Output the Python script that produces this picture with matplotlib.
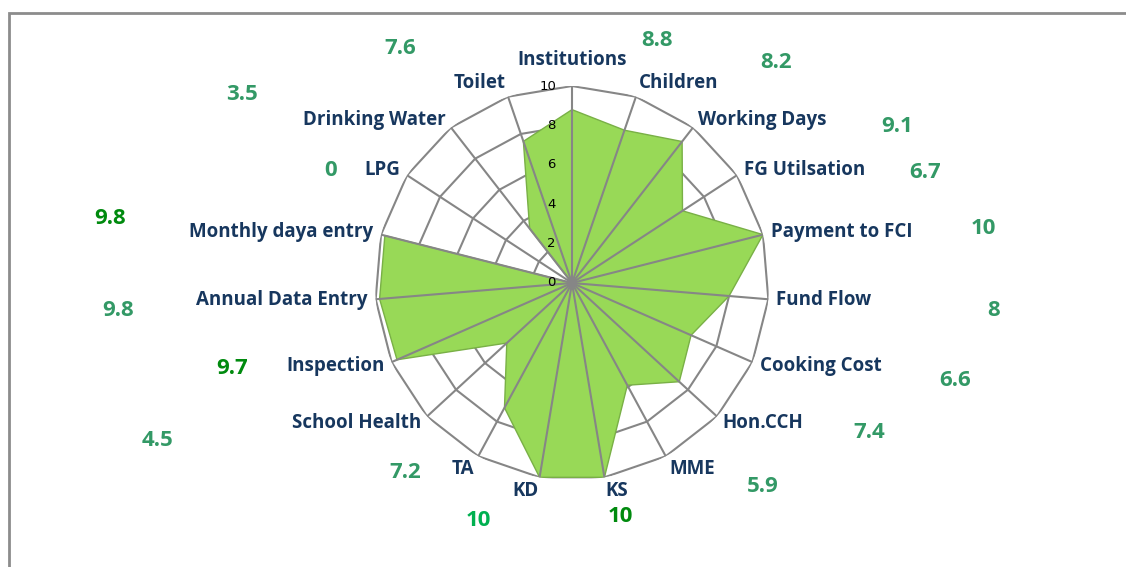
import numpy as np
import matplotlib.pyplot as plt
from matplotlib.patches import Rectangle

categories = ['Institutions', 'Children', 'Working Days', 'FG Utilsation', 'Payment to FCI',
              'Fund Flow', 'Cooking Cost', 'Hon.CCH', 'MME', 'KS', 'KD', 'TA', 'School Health',
              'Inspection', 'Annual Data Entry', 'Monthly daya entry', 'LPG', 'Drinking Water', 'Toilet']
scores = [8.8, 8.2, 9.1, 6.7, 10, 8, 6.6, 7.4, 5.9, 10, 10, 7.2, 4.5, 9.7, 9.8, 9.8, 0, 3.5, 7.6]
ticks = [0, 2, 4, 6, 8, 10]

# where the loose value boxes sit (figure pixels) and their colour
MID, DARK, BRIGHT = '#339966', '#008a0e', '#00b050'
value_pos = [(657, 40), (776, 63), (897, 127), (925, 173), (983, 228), (994, 311), (955, 381),
             (869, 433), (763, 487), (620, 517), (478, 520), (405, 472), (157, 441), (232, 368),
             (118, 310), (110, 218), (331, 171), (242, 94), (400, 49)]
value_col = [MID] * 19
value_col[9] = DARK
value_col[10] = BRIGHT
value_col[13] = DARK
value_col[15] = DARK

W, H = 1126, 567
BLUE = '#17375E'
GRID = '#868686'
FONT = 'Open Sans'


def main():
    fig = plt.figure(figsize=(W / 100, H / 100), dpi=100)
    fig.patches.append(Rectangle((9 / W, -0.1), 1.2, 1 - 13 / H + 0.1, transform=fig.transFigure,
                                 fill=False, edgecolor='#8c8c8c', linewidth=2, zorder=0))

    cx, cy, r = 572, 283, 197
    ax = fig.add_axes([(cx - r) / W, (H - cy - r) / H, 2 * r / W, 2 * r / H], projection='polar')
    ax.set_theta_offset(np.pi / 2)
    ax.set_theta_direction(-1)
    ax.set_ylim(0, 10)
    ax.grid(False)
    ax.spines['polar'].set_visible(False)
    ax.set_xticks([])
    ax.set_yticks([])
    ax.patch.set_alpha(0)

    n = len(categories)
    ang = np.arange(n) * 2 * np.pi / n
    closed = np.append(ang, ang[0])

    for t in ticks[1:]:
        ax.plot(closed, [t] * (n + 1), color=GRID, lw=1.5, zorder=1)
    for a in ang:
        ax.plot([a, a], [0, 10], color=GRID, lw=1.5, zorder=3)

    vals = np.append(scores, scores[0])
    ax.fill(closed, vals, facecolor='#98d957', edgecolor='#79b046', lw=1.0, zorder=2)

    for t in ticks:
        ax.annotate(str(t), (0, t), xytext=(-16, 0), textcoords='offset pixels', fontsize=9.5,
                    family='DejaVu Sans', ha='right', va='center', color='black', zorder=4)

    for a, name in zip(ang, categories):
        s, c = np.sin(a), np.cos(a)
        if abs(s) < 0.05:
            ha, off = 'center', (0, 26)
        else:
            ha = 'left' if s > 0 else 'right'
            off = (8 * s, 10 * c + (4 if c > 0.8 else -4 if c < -0.8 else 0))
        ax.annotate(name, (a, 10), xytext=off, textcoords='offset pixels', ha=ha, va='center',
                    fontsize=13.5, fontweight='bold', family=FONT, color=BLUE, annotation_clip=False)

    for v, (x, y), col in zip(scores, value_pos, value_col):
        fig.text(x / W, 1 - y / H, f'{v:g}', fontsize=16, fontweight='bold', family=FONT,
                 color=col, ha='center', va='center')

    fig.savefig('out.png', dpi=100)


if __name__ == '__main__':
    main()
